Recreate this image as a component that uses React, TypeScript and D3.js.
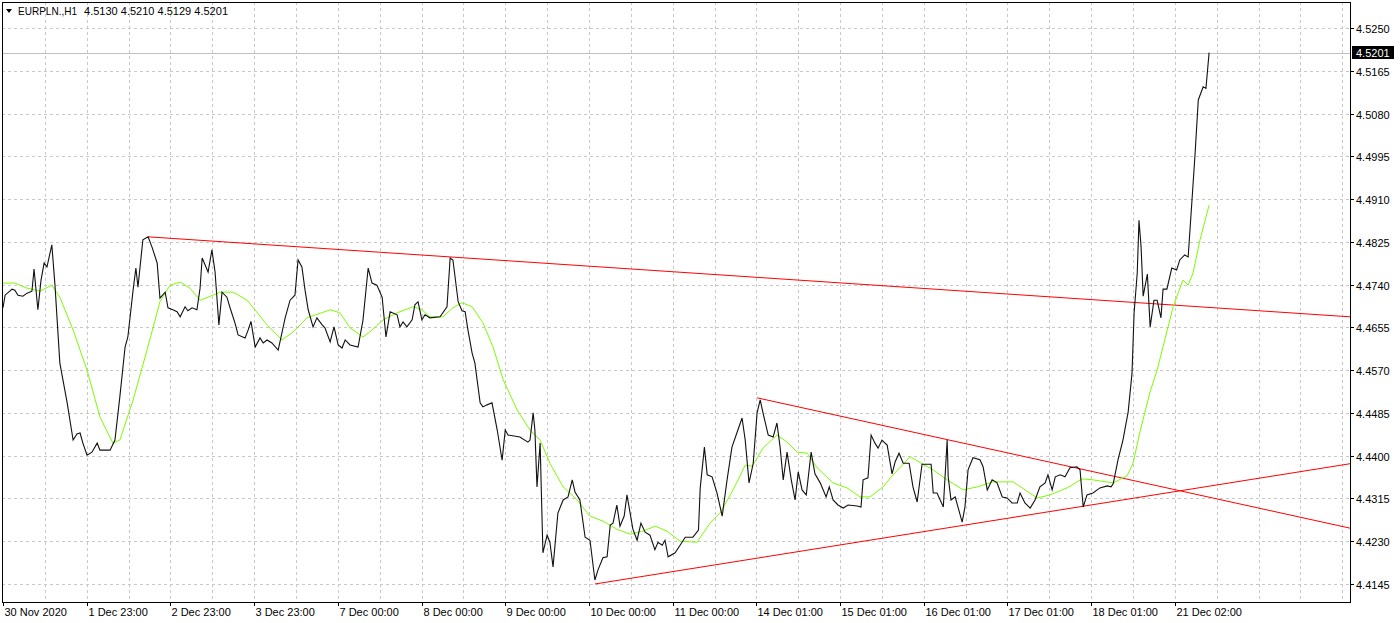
import React, { useEffect, useRef } from 'react';
import * as d3 from 'd3';

const symbol = 'EURPLN.,H1';
const ohlc = ['4.5130', '4.5210', '4.5129', '4.5201'];
const lastPrice = 4.5201;

const priceTicks = [4.525, 4.5165, 4.508, 4.4995, 4.491, 4.4825, 4.474, 4.4655, 4.457, 4.4485, 4.44, 4.4315, 4.423, 4.4145];

const timeLabels = [
  '30 Nov 2020', '1 Dec 23:00', '2 Dec 23:00', '3 Dec 23:00', '7 Dec 00:00', '8 Dec 00:00',
  '9 Dec 00:00', '10 Dec 00:00', '11 Dec 00:00', '14 Dec 01:00', '15 Dec 01:00', '16 Dec 01:00',
  '17 Dec 01:00', '18 Dec 01:00', '21 Dec 02:00',
];
const barsPerLabel = 24;
const visibleBars = 386.2;

// [bar index, close]
const closes: [number, number][] = [
  [0, 4.4694], [0.6, 4.4719], [2.6, 4.4731], [3.4, 4.4729], [4.3, 4.4719], [5.7, 4.4717], [6.9, 4.4723],
  [8.3, 4.4727], [8.9, 4.4771], [10, 4.469], [10.9, 4.4749], [11.8, 4.4783], [12.6, 4.4775], [14, 4.4819],
  [14.9, 4.4739], [16.3, 4.4584], [18.4, 4.4505], [20.1, 4.4431], [21.2, 4.4443], [22.1, 4.4445], [22.9, 4.4425],
  [24.1, 4.4401], [25.5, 4.4407], [27, 4.4425], [27.8, 4.4411], [30.7, 4.4411], [32.1, 4.4431], [33.5, 4.4517],
  [35, 4.4616], [35.8, 4.4636], [37.3, 4.4729], [38.1, 4.4773], [38.7, 4.4735], [40.1, 4.4829], [41.6, 4.4835],
  [42.7, 4.4815], [44.2, 4.4783], [45, 4.4713], [46.5, 4.4725], [47.3, 4.4694], [48.7, 4.469], [49.9, 4.4686],
  [50.8, 4.4676], [52.2, 4.4696], [53, 4.4688], [54.2, 4.4694], [55.6, 4.469], [56.5, 4.4733], [57.1, 4.4793],
  [58.8, 4.4765], [59.9, 4.4809], [60.8, 4.4765], [61.9, 4.466], [62.8, 4.4725], [64.2, 4.4715], [65.1, 4.4694],
  [66.5, 4.4664], [67.4, 4.464], [69.4, 4.4634], [70.3, 4.465], [71.1, 4.4667], [72.3, 4.4616], [73.7, 4.4634],
  [74.6, 4.4624], [75.7, 4.463], [77.1, 4.4624], [78.9, 4.461], [80.9, 4.4674], [82.3, 4.4709], [83.7, 4.4719],
  [84.6, 4.4789], [85.7, 4.4775], [86.6, 4.4729], [87.5, 4.469], [88.9, 4.4656], [90, 4.4674], [91.5, 4.466],
  [92.3, 4.4654], [93.8, 4.4626], [94.9, 4.4656], [96.1, 4.462], [97.2, 4.4614], [98.1, 4.463], [99.5, 4.462],
  [101.8, 4.4616], [103.2, 4.4669], [104.7, 4.4773], [105.8, 4.4743], [107.2, 4.4739], [108.7, 4.4715],
  [109.8, 4.4636], [111, 4.4686], [113, 4.468], [113.8, 4.4656], [114.7, 4.4666], [115.8, 4.4656], [117.3, 4.467],
  [118.1, 4.47], [119, 4.4706], [120.1, 4.467], [121, 4.468], [122.4, 4.4674], [125.3, 4.4676], [127.3, 4.4696],
  [128.2, 4.4793], [129, 4.4789], [130.5, 4.4706], [131.6, 4.4688], [132.5, 4.4686], [133.3, 4.465],
  [134.5, 4.4604], [135.3, 4.4584], [136.8, 4.4505], [137.6, 4.4497], [138.8, 4.4501], [140.2, 4.4505],
  [141.7, 4.4451], [143.1, 4.4391], [144, 4.4451], [144.8, 4.4441], [148.2, 4.4437], [150.5, 4.4427],
  [151.1, 4.4431], [152, 4.4485], [152.5, 4.4451], [153.1, 4.4338], [154, 4.4425], [154.8, 4.4207], [156, 4.4242],
  [156.8, 4.4228], [157.7, 4.4179], [159.1, 4.4286], [160.6, 4.4312], [162, 4.4318], [163.2, 4.4352],
  [164, 4.4328], [165.4, 4.4312], [166.9, 4.4238], [168.3, 4.4232], [169.7, 4.4153], [170.6, 4.4173],
  [172, 4.4197], [173.2, 4.4199], [174.1, 4.4262], [174.9, 4.4266], [176, 4.4302], [176.9, 4.426], [178.1, 4.428],
  [178.9, 4.4322], [180.6, 4.4254], [181.8, 4.4232], [182.9, 4.4266], [184.1, 4.4248], [185.5, 4.4242],
  [186.9, 4.4213], [187.8, 4.4228], [189, 4.4222], [189.8, 4.4232], [190.7, 4.4199], [192.7, 4.4207],
  [194.5, 4.4226], [195.6, 4.4238], [197.8, 4.4238], [199.4, 4.4252], [199.9, 4.4336], [201.1, 4.4417],
  [201.9, 4.4362], [203.3, 4.4358], [204.7, 4.4326], [206.2, 4.428], [207.6, 4.4352], [209, 4.4417],
  [210.5, 4.4447], [211.9, 4.4475], [212.8, 4.4431], [213.9, 4.4346], [215.1, 4.4385], [216.2, 4.4485],
  [217.1, 4.4511], [217.9, 4.4485], [219.4, 4.4441], [220.8, 4.4437], [221.9, 4.4465], [222.8, 4.4417],
  [223.7, 4.4352], [224.8, 4.4407], [226, 4.4352], [227.1, 4.4312], [228, 4.4368], [229.1, 4.4332],
  [230.3, 4.4322], [231.7, 4.4407], [232.8, 4.4364], [234.3, 4.4346], [236, 4.4318], [236.9, 4.4338],
  [238, 4.4312], [239.4, 4.4302], [240.9, 4.4296], [242.3, 4.4302], [244.9, 4.43], [246, 4.4298], [246.6, 4.4352],
  [248, 4.4356], [248.9, 4.4441], [250, 4.4425], [250.9, 4.4415], [252, 4.4431], [253.5, 4.4421], [254.9, 4.4364],
  [255.8, 4.4388], [256.9, 4.4405], [258.1, 4.4385], [259.8, 4.4385], [260.9, 4.4338], [262.1, 4.4308],
  [263.5, 4.4383], [266.1, 4.4383], [266.7, 4.4326], [267.8, 4.4326], [269.6, 4.4298], [270.7, 4.4431],
  [271, 4.4358], [271.8, 4.4312], [273, 4.4318], [275, 4.4268], [275.8, 4.4298], [276.7, 4.4372], [278.1, 4.4396],
  [280.1, 4.4392], [281, 4.4378], [282.2, 4.4332], [283.6, 4.4352], [285, 4.4346], [286.5, 4.4318],
  [287.9, 4.4316], [289.3, 4.4306], [290.8, 4.4306], [291.6, 4.4326], [293, 4.4306], [294.5, 4.4296],
  [295.9, 4.4312], [297.3, 4.4338], [298.8, 4.4346], [299.6, 4.4362], [300.8, 4.4332], [301.7, 4.4358],
  [303.1, 4.4362], [304.5, 4.4358], [305.9, 4.4376], [307.9, 4.4378], [308.8, 4.4372], [309.7, 4.4298],
  [310.8, 4.4322], [312.5, 4.4326], [314.5, 4.4336], [316.6, 4.434], [317.7, 4.4338], [318.3, 4.4344],
  [319.7, 4.4392], [321.1, 4.4431], [322.6, 4.4487], [323.7, 4.4564], [324.3, 4.4684], [325.2, 4.4763],
  [325.7, 4.4868], [326.3, 4.4815], [326.9, 4.4717], [328.1, 4.4761], [328.9, 4.4656], [330, 4.4709],
  [330.9, 4.4709], [332, 4.4674], [332.6, 4.4731], [333.7, 4.4731], [335.1, 4.4773], [336.5, 4.4769],
  [337.4, 4.4789], [338.8, 4.4799], [339.8, 4.4795], [340.9, 4.4908], [341.8, 4.5002], [342.7, 4.5107],
  [344.1, 4.5133], [344.9, 4.513], [345.8, 4.5201],
];

// moving average, [bar index, value]
const movingAvg: [number, number][] = [
  [0, 4.4743], [2, 4.4743], [3.4, 4.4743], [6.9, 4.4733], [10.6, 4.4727], [14, 4.4739], [16.3, 4.4715],
  [20.1, 4.465], [24.1, 4.457], [27.8, 4.4477], [31.5, 4.4425], [33.5, 4.4431], [37.3, 4.4511], [41.3, 4.461],
  [45, 4.4706], [47.9, 4.4739], [50.8, 4.4745], [53.6, 4.4733], [56.5, 4.4709], [58.8, 4.4715], [62.2, 4.4725],
  [66, 4.4725], [70, 4.4709], [75.7, 4.466], [80, 4.463], [83.2, 4.4646], [87.2, 4.4674], [93.8, 4.469],
  [96.6, 4.4684], [99.5, 4.4654], [103.2, 4.4636], [105.2, 4.4646], [109, 4.467], [113, 4.4684], [117.6, 4.4696],
  [120.1, 4.469], [122.4, 4.4676], [126.2, 4.4676], [129, 4.4694], [131.6, 4.4704], [134.5, 4.4696],
  [137.6, 4.4664], [140.5, 4.4616], [143.4, 4.4551], [147.4, 4.4491], [151.1, 4.4451], [154, 4.4431],
  [156.8, 4.4385], [160.6, 4.4338], [164.6, 4.4312], [168.3, 4.428], [172, 4.427], [176, 4.4254],
  [179.8, 4.4244], [183.5, 4.425], [187, 4.426], [190.4, 4.425], [194.1, 4.423], [199, 4.4228], [202.7, 4.4266],
  [205.6, 4.4286], [209.3, 4.4332], [212.8, 4.4381], [214.8, 4.4379], [217.9, 4.4415], [221.9, 4.4441],
  [224.8, 4.4427], [227.7, 4.4407], [230.6, 4.4405], [233.4, 4.4376], [238, 4.4346], [242, 4.4336],
  [245.7, 4.4318], [248.6, 4.4318], [252.3, 4.4338], [255.2, 4.4362], [260.1, 4.4398], [263.8, 4.4383],
  [266.7, 4.4372], [270.7, 4.4352], [275.3, 4.4332], [279.3, 4.4338], [283.9, 4.4348], [289.6, 4.4348],
  [296.5, 4.4316], [300.2, 4.4322], [305.1, 4.4336], [309.4, 4.4354], [312.5, 4.4352], [318.3, 4.4346],
  [322.3, 4.436], [324, 4.4385], [326.1, 4.4451], [328.9, 4.4527], [330.9, 4.457], [335.5, 4.4696],
  [338.3, 4.4749], [339.8, 4.4739], [341.2, 4.4763], [343.2, 4.4829], [345.8, 4.4898],
];

// trendlines: [bar, price] start -> end at the right edge
const trendStart: [number, number][] = [[41.6, 4.4835], [216.2, 4.4515], [169.7, 4.4145]];
const trendEnd: [number, number][] = [[386.2, 4.4676], [386.2, 4.4256], [386.2, 4.4384]];

const W = 1400;
const H = 623;
const left = 2;
const right = 1350;
const top = 2;
const bottom = 602;
const font = '"Liberation Sans", Arial, sans-serif';

const Chart: React.FC = () => {
  const svgRef = useRef<SVGSVGElement>(null);

  useEffect(() => {
    if (!svgRef.current) return;
    const svg = d3.select(svgRef.current);
    svg.selectAll('*').remove();

    const x = d3.scaleLinear().domain([0, visibleBars]).range([3, right]);
    const y = d3.scaleLinear().domain([4.4145, 4.525]).range([584, 28]);

    svg.append('rect').attr('width', W).attr('height', H).attr('fill', '#fff');

    // grid
    const grid = svg.append('g').attr('shape-rendering', 'crispEdges');
    priceTicks.forEach(p => {
      grid.append('line')
        .attr('x1', left).attr('x2', right)
        .attr('y1', Math.round(y(p)) + 0.5).attr('y2', Math.round(y(p)) + 0.5)
        .attr('stroke', '#c8c8c8').attr('stroke-dasharray', '3,3');
    });
    d3.range(12, visibleBars, 12).forEach(b => {
      grid.append('line')
        .attr('x1', Math.round(x(b)) + 0.5).attr('x2', Math.round(x(b)) + 0.5)
        .attr('y1', top).attr('y2', bottom)
        .attr('stroke', '#c8c8c8').attr('stroke-dasharray', '3,3');
    });

    // last price line
    svg.append('line')
      .attr('x1', left).attr('x2', right)
      .attr('y1', Math.round(y(lastPrice)) + 0.5).attr('y2', Math.round(y(lastPrice)) + 0.5)
      .attr('stroke', '#c0c0c0').attr('shape-rendering', 'crispEdges');

    // trendlines
    trendStart.forEach((s, i) => {
      const e = trendEnd[i];
      svg.append('line')
        .attr('x1', x(s[0])).attr('y1', y(s[1]))
        .attr('x2', x(e[0])).attr('y2', y(e[1]))
        .attr('stroke', '#ff0000').attr('stroke-width', 1);
    });

    const line = d3.line<[number, number]>()
      .x(d => x(d[0]))
      .y(d => y(d[1]));

    svg.append('path')
      .datum(movingAvg)
      .attr('fill', 'none')
      .attr('stroke', '#7cfc00')
      .attr('stroke-width', 1)
      .attr('d', line);

    svg.append('path')
      .datum(closes)
      .attr('fill', 'none')
      .attr('stroke', '#111')
      .attr('stroke-width', 1.1)
      .attr('d', line);

    // frame
    svg.append('rect')
      .attr('x', left + 0.5).attr('y', top + 0.5)
      .attr('width', right - left).attr('height', bottom - top)
      .attr('fill', 'none').attr('stroke', '#000').attr('shape-rendering', 'crispEdges');

    // price axis
    const pa = svg.append('g').attr('font-family', font).attr('font-size', 11).attr('fill', '#000');
    priceTicks.forEach(p => {
      const yy = Math.round(y(p)) + 0.5;
      pa.append('line').attr('x1', right).attr('x2', right + 4).attr('y1', yy).attr('y2', yy)
        .attr('stroke', '#000').attr('shape-rendering', 'crispEdges');
      pa.append('text').attr('x', right + 6).attr('y', yy + 4).text(p.toFixed(4));
    });
    const ly = Math.round(y(lastPrice));
    pa.append('rect').attr('x', right + 2).attr('y', ly - 7).attr('width', 42).attr('height', 13).attr('fill', '#000');
    pa.append('text').attr('x', right + 6).attr('y', ly + 4).attr('fill', '#fff').text(lastPrice.toFixed(4));

    // time axis
    const ta = svg.append('g').attr('font-family', font).attr('font-size', 11).attr('fill', '#000');
    timeLabels.forEach((lab, i) => {
      const xx = Math.round(x(i * barsPerLabel)) + 0.5;
      ta.append('line').attr('x1', xx).attr('x2', xx).attr('y1', bottom).attr('y2', bottom + 4)
        .attr('stroke', '#000').attr('shape-rendering', 'crispEdges');
      ta.append('text').attr('x', xx + 1).attr('y', bottom + 14).text(lab);
    });

    // title
    const tg = svg.append('g').attr('font-family', font).attr('font-size', 11).attr('fill', '#000');
    tg.append('path').attr('d', 'M6,9 L12,9 L9,13 Z');
    tg.append('text').attr('x', 18).attr('y', 15)
      .attr('textLength', 59).attr('lengthAdjust', 'spacingAndGlyphs').text(symbol);
    tg.append('text').attr('x', 84).attr('y', 15)
      .attr('textLength', 144).attr('lengthAdjust', 'spacing').text(ohlc.join(' '));
  }, []);

  return (
    <svg ref={svgRef} width={W} height={H} viewBox={`0 0 ${W} ${H}`}
      style={{ position: 'absolute', left: 0, top: 0, display: 'block' }} />
  );
};

export default function App() {
  return <Chart />;
}
